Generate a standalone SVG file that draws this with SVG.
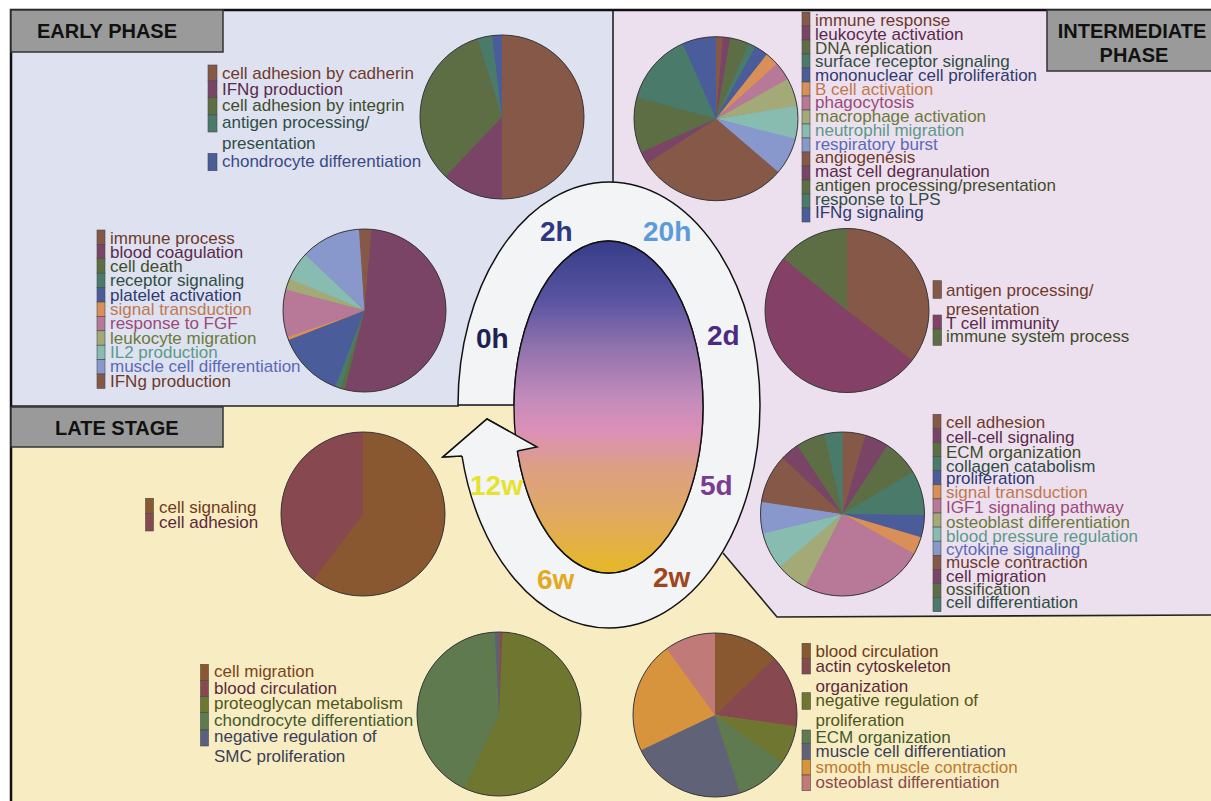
<svg xmlns="http://www.w3.org/2000/svg" width="1211" height="801" viewBox="0 0 1211 801">
<defs>
<style>
.lg{font-family:"Liberation Sans",Arial,Helvetica,sans-serif;font-size:17px}
.hd{font-family:"Liberation Sans",Arial,Helvetica,sans-serif;font-size:20px;font-weight:bold;fill:#111}
.tm{font-family:"Liberation Sans",Arial,Helvetica,sans-serif;font-size:28px;font-weight:bold}
.sw{stroke:#4a4a4a;stroke-width:0.6}
.sl{fill:none}
.ol{fill:none;stroke:#3a3a3a;stroke-width:1}
.hb{fill:#9a9a9a;stroke:#333;stroke-width:1.5}
.bd{fill:none;stroke:#222;stroke-width:1.6}
</style>
<linearGradient id="grad" x1="0" y1="0" x2="0" y2="1">
<stop offset="0" stop-color="#363d88"/>
<stop offset="0.18" stop-color="#5a54a2"/>
<stop offset="0.33" stop-color="#9474ae"/>
<stop offset="0.48" stop-color="#c48cbb"/>
<stop offset="0.57" stop-color="#dc90b8"/>
<stop offset="0.69" stop-color="#dca082"/>
<stop offset="0.81" stop-color="#e0a866"/>
<stop offset="1" stop-color="#e6b826"/>
</linearGradient>
</defs>

<g id="background">
<rect x="0" y="0" width="1211" height="801" fill="#ffffff"/>
<rect x="11" y="10" width="1200" height="791" fill="#f8ecc2"/>
<rect x="11" y="10" width="602" height="396" fill="#dee1f0"/>
<path d="M613,10 H1211 V615 L777,617 L723,553 L613,553 Z" fill="#ede0ee"/>
<path class="bd" d="M613,10 V184"/>
<path class="bd" d="M11,406 H459"/>
<path class="bd" d="M723,553 L777,617 L1211,615"/>
<path d="M11,801 V10 H1211" fill="none" stroke="#111" stroke-width="2.5"/>
</g>

<g id="header-early">
<rect class="hb" x="11" y="10" width="212" height="42"/>
<text class="hd" x="37" y="38">EARLY PHASE</text>
</g>
<g id="header-intermediate">
<rect class="hb" x="1047" y="10" width="170" height="61"/>
<text class="hd" x="1132" y="38" text-anchor="middle">INTERMEDIATE</text>
<text class="hd" x="1134" y="62" text-anchor="middle">PHASE</text>
</g>
<g id="header-late">
<rect class="hb" x="11" y="407" width="212" height="40"/>
<text class="hd" x="55" y="435">LATE STAGE</text>
</g>

<g id="timeline-ring">
<path d="M517.4,451 L537,447 L487,419 L443,457 L462,456 A151,223 0 0 0 609,628 A151,223 0 0 0 760,405 A151,223 0 0 0 609,182 A151,223 0 0 0 458,405 L514,405 A94.5,166 0 0 1 608.5,241 A94.5,166 0 0 1 703,407 A94.5,166 0 0 1 608.5,573 A94.5,166 0 0 1 517.4,451 Z" fill="#f3f4f6" stroke="#111" stroke-width="1.5" stroke-linejoin="miter"/>
<ellipse cx="608.5" cy="407" rx="94.5" ry="166" fill="url(#grad)" stroke="#111" stroke-width="1.4"/>
<polygon points="517.4,451 537,447 487,419 443,457 462,456" fill="#f3f4f6"/>
<polyline points="517.4,451 537,447 487,419 443,457 462,456" fill="none" stroke="#111" stroke-width="1.5"/>
<text class="tm" x="476" y="348" fill="#1d2255">0h</text>
<text class="tm" x="540" y="241" fill="#2c3882">2h</text>
<text class="tm" x="643" y="241" fill="#5b9bd8">20h</text>
<text class="tm" x="707" y="345" fill="#4c2a82">2d</text>
<text class="tm" x="700" y="495" fill="#7a3c92">5d</text>
<text class="tm" x="653" y="587" fill="#a0461c">2w</text>
<text class="tm" x="537" y="589" fill="#e2aa22">6w</text>
<text class="tm" x="470" y="495" fill="#e6e22e">12w</text>
</g>

<g id="pie-early-1">
<circle cx="502" cy="117" r="82" fill="#4a5c9a"/>
<g transform="rotate(-90 502 117)" stroke-width="82">
<circle class="sl" cx="502" cy="117" r="41" pathLength="360" stroke="#855848" stroke-dasharray="180.6 360" stroke-dashoffset="0"/>
<circle class="sl" cx="502" cy="117" r="41" pathLength="360" stroke="#7a4466" stroke-dasharray="44.1 360" stroke-dashoffset="-180"/>
<circle class="sl" cx="502" cy="117" r="41" pathLength="360" stroke="#5e6e44" stroke-dasharray="119.8 360" stroke-dashoffset="-223.5"/>
<circle class="sl" cx="502" cy="117" r="41" pathLength="360" stroke="#4a7a6a" stroke-dasharray="10.9 360" stroke-dashoffset="-342.7"/>
<circle class="sl" cx="502" cy="117" r="41" pathLength="360" stroke="#4a5c9a" stroke-dasharray="7 360" stroke-dashoffset="-353"/>
</g>
<circle class="ol" cx="502" cy="117" r="82"/>
</g>
<g id="legend-early-1" class="lg">
<rect class="sw" x="208" y="65" width="9" height="16" fill="#855848"/>
<rect class="sw" x="208" y="81" width="9" height="16.7" fill="#7a4466"/>
<rect class="sw" x="208" y="97.7" width="9" height="17.3" fill="#5e6e44"/>
<rect class="sw" x="208" y="115" width="9" height="17" fill="#4a7a6a"/>
<rect class="sw" x="208" y="153.3" width="9" height="17.4" fill="#4a5c9a"/>
<text x="222" y="79.3" fill="#6e3a2c">cell adhesion by cadherin</text>
<text x="222" y="95" fill="#5a2a4a">IFNg production</text>
<text x="222" y="111" fill="#3e4e2c">cell adhesion by integrin</text>
<text x="222" y="128.3" fill="#2e4e46">antigen processing/</text>
<text x="222" y="148.7" fill="#2e4e46">presentation</text>
<text x="222" y="166.7" fill="#3a4a86">chondrocyte differentiation</text>
</g>

<g id="pie-early-2">
<circle cx="364.5" cy="310.5" r="81.5" fill="#855848"/>
<g transform="rotate(-90 364.5 310.5)" stroke-width="81.5">
<circle class="sl" cx="364.5" cy="310.5" r="40.75" pathLength="360" stroke="#855848" stroke-dasharray="5.6 360" stroke-dashoffset="0"/>
<circle class="sl" cx="364.5" cy="310.5" r="40.75" pathLength="360" stroke="#7a4466" stroke-dasharray="189.6 360" stroke-dashoffset="-5"/>
<circle class="sl" cx="364.5" cy="310.5" r="40.75" pathLength="360" stroke="#5e6e44" stroke-dasharray="3.6 360" stroke-dashoffset="-194"/>
<circle class="sl" cx="364.5" cy="310.5" r="40.75" pathLength="360" stroke="#4a7a6a" stroke-dasharray="4.6 360" stroke-dashoffset="-197"/>
<circle class="sl" cx="364.5" cy="310.5" r="40.75" pathLength="360" stroke="#4a5c9a" stroke-dasharray="48.3 360" stroke-dashoffset="-201"/>
<circle class="sl" cx="364.5" cy="310.5" r="40.75" pathLength="360" stroke="#d89058" stroke-dasharray="2.9 360" stroke-dashoffset="-248.7"/>
<circle class="sl" cx="364.5" cy="310.5" r="40.75" pathLength="360" stroke="#b87898" stroke-dasharray="34.6 360" stroke-dashoffset="-251"/>
<circle class="sl" cx="364.5" cy="310.5" r="40.75" pathLength="360" stroke="#a3aa78" stroke-dasharray="8.8 360" stroke-dashoffset="-285"/>
<circle class="sl" cx="364.5" cy="310.5" r="40.75" pathLength="360" stroke="#88bcb0" stroke-dasharray="20.6 360" stroke-dashoffset="-293.2"/>
<circle class="sl" cx="364.5" cy="310.5" r="40.75" pathLength="360" stroke="#8898cc" stroke-dasharray="43.4 360" stroke-dashoffset="-313.2"/>
<circle class="sl" cx="364.5" cy="310.5" r="40.75" pathLength="360" stroke="#855848" stroke-dasharray="4 360" stroke-dashoffset="-356"/>
</g>
<circle class="ol" cx="364.5" cy="310.5" r="81.5"/>
</g>
<g id="legend-early-2" class="lg">
<rect class="sw" x="97" y="230" width="8" height="14.4" fill="#855848"/>
<rect class="sw" x="97" y="244.4" width="8" height="14.4" fill="#7a4466"/>
<rect class="sw" x="97" y="258.8" width="8" height="14.4" fill="#5e6e44"/>
<rect class="sw" x="97" y="273.2" width="8" height="14.4" fill="#4a7a6a"/>
<rect class="sw" x="97" y="287.6" width="8" height="14.4" fill="#4a5c9a"/>
<rect class="sw" x="97" y="302" width="8" height="14.4" fill="#d89058"/>
<rect class="sw" x="97" y="316.4" width="8" height="14.4" fill="#b87898"/>
<rect class="sw" x="97" y="330.8" width="8" height="14.4" fill="#a3aa78"/>
<rect class="sw" x="97" y="345.2" width="8" height="14.4" fill="#88bcb0"/>
<rect class="sw" x="97" y="359.6" width="8" height="14.4" fill="#8898cc"/>
<rect class="sw" x="97" y="374" width="8" height="14.4" fill="#855848"/>
<text x="110" y="243.5" fill="#6e3a2c">immune process</text>
<text x="110" y="257.8" fill="#5a2a4a">blood coagulation</text>
<text x="110" y="272.1" fill="#3e4e2c">cell death</text>
<text x="110" y="286.4" fill="#2e4e46">receptor signaling</text>
<text x="110" y="300.7" fill="#2e3a70">platelet activation</text>
<text x="110" y="315" fill="#c07850">signal transduction</text>
<text x="110" y="329.3" fill="#9a4a7a">response to FGF</text>
<text x="110" y="343.6" fill="#6a7a3a">leukocyte migration</text>
<text x="110" y="357.9" fill="#5a9a8a">IL2 production</text>
<text x="110" y="372.2" fill="#5a6ab8">muscle cell differentiation</text>
<text x="110" y="386.5" fill="#6e3a2c">IFNg production</text>
</g>

<g id="pie-intermediate-1">
<circle cx="716" cy="118.7" r="82" fill="#4a5c9a"/>
<g transform="rotate(-90 716 118.7)" stroke-width="82">
<circle class="sl" cx="716" cy="118.7" r="41" pathLength="360" stroke="#855848" stroke-dasharray="5.5 360" stroke-dashoffset="0"/>
<circle class="sl" cx="716" cy="118.7" r="41" pathLength="360" stroke="#7a4466" stroke-dasharray="5.7 360" stroke-dashoffset="-4.9"/>
<circle class="sl" cx="716" cy="118.7" r="41" pathLength="360" stroke="#5e6e44" stroke-dasharray="14.1 360" stroke-dashoffset="-10"/>
<circle class="sl" cx="716" cy="118.7" r="41" pathLength="360" stroke="#4a7a6a" stroke-dasharray="5.8 360" stroke-dashoffset="-23.5"/>
<circle class="sl" cx="716" cy="118.7" r="41" pathLength="360" stroke="#4a5c9a" stroke-dasharray="10.2 360" stroke-dashoffset="-28.7"/>
<circle class="sl" cx="716" cy="118.7" r="41" pathLength="360" stroke="#d89058" stroke-dasharray="10.3 360" stroke-dashoffset="-38.3"/>
<circle class="sl" cx="716" cy="118.7" r="41" pathLength="360" stroke="#b87898" stroke-dasharray="13.6 360" stroke-dashoffset="-48"/>
<circle class="sl" cx="716" cy="118.7" r="41" pathLength="360" stroke="#a3aa78" stroke-dasharray="20.6 360" stroke-dashoffset="-61"/>
<circle class="sl" cx="716" cy="118.7" r="41" pathLength="360" stroke="#88bcb0" stroke-dasharray="23.9 360" stroke-dashoffset="-81"/>
<circle class="sl" cx="716" cy="118.7" r="41" pathLength="360" stroke="#8898cc" stroke-dasharray="26.9 360" stroke-dashoffset="-104.3"/>
<circle class="sl" cx="716" cy="118.7" r="41" pathLength="360" stroke="#855848" stroke-dasharray="107.1 360" stroke-dashoffset="-130.6"/>
<circle class="sl" cx="716" cy="118.7" r="41" pathLength="360" stroke="#7a4466" stroke-dasharray="9.3 360" stroke-dashoffset="-237.1"/>
<circle class="sl" cx="716" cy="118.7" r="41" pathLength="360" stroke="#5e6e44" stroke-dasharray="40.1 360" stroke-dashoffset="-245.8"/>
<circle class="sl" cx="716" cy="118.7" r="41" pathLength="360" stroke="#4a7a6a" stroke-dasharray="51.3 360" stroke-dashoffset="-285.3"/>
<circle class="sl" cx="716" cy="118.7" r="41" pathLength="360" stroke="#4a5c9a" stroke-dasharray="24 360" stroke-dashoffset="-336"/>
</g>
<circle class="ol" cx="716" cy="118.7" r="82"/>
</g>
<g id="legend-intermediate-1" class="lg">
<rect class="sw" x="802" y="12" width="8" height="14" fill="#855848"/>
<rect class="sw" x="802" y="26" width="8" height="14" fill="#7a4466"/>
<rect class="sw" x="802" y="40" width="8" height="14" fill="#5e6e44"/>
<rect class="sw" x="802" y="54" width="8" height="14" fill="#4a7a6a"/>
<rect class="sw" x="802" y="68" width="8" height="14" fill="#4a5c9a"/>
<rect class="sw" x="802" y="82" width="8" height="14" fill="#d89058"/>
<rect class="sw" x="802" y="96" width="8" height="14" fill="#b87898"/>
<rect class="sw" x="802" y="110" width="8" height="14" fill="#a3aa78"/>
<rect class="sw" x="802" y="124" width="8" height="14" fill="#88bcb0"/>
<rect class="sw" x="802" y="138" width="8" height="14" fill="#8898cc"/>
<rect class="sw" x="802" y="152" width="8" height="14" fill="#855848"/>
<rect class="sw" x="802" y="166" width="8" height="14" fill="#7a4466"/>
<rect class="sw" x="802" y="180" width="8" height="14" fill="#5e6e44"/>
<rect class="sw" x="802" y="194" width="8" height="14" fill="#4a7a6a"/>
<rect class="sw" x="802" y="208" width="8" height="14" fill="#4a5c9a"/>
<text x="815" y="26" fill="#6e3a2c">immune response</text>
<text x="815" y="39.7" fill="#5a2a4a">leukocyte activation</text>
<text x="815" y="53.5" fill="#3e4e2c">DNA replication</text>
<text x="815" y="67.2" fill="#2e4e46">surface receptor signaling</text>
<text x="815" y="81" fill="#2e3a70">mononuclear cell proliferation</text>
<text x="815" y="94.7" fill="#c07850">B cell activation</text>
<text x="815" y="108.4" fill="#9a4a7a">phagocytosis</text>
<text x="815" y="122.2" fill="#6a7a3a">macrophage activation</text>
<text x="815" y="135.9" fill="#5a9a8a">neutrophil migration</text>
<text x="815" y="149.7" fill="#5a6ab8">respiratory burst</text>
<text x="815" y="163.4" fill="#6e3a2c">angiogenesis</text>
<text x="815" y="177.1" fill="#5a2a4a">mast cell degranulation</text>
<text x="815" y="190.9" fill="#3e4e2c">antigen processing/presentation</text>
<text x="815" y="204.6" fill="#2e4e46">response to LPS</text>
<text x="815" y="218.4" fill="#2e3a70">IFNg signaling</text>
</g>

<g id="pie-intermediate-2">
<circle cx="847" cy="310.5" r="82" fill="#5e6e44"/>
<g transform="rotate(-90 847 310.5)" stroke-width="82">
<circle class="sl" cx="847" cy="310.5" r="41" pathLength="360" stroke="#855848" stroke-dasharray="127.9 360" stroke-dashoffset="0"/>
<circle class="sl" cx="847" cy="310.5" r="41" pathLength="360" stroke="#844066" stroke-dasharray="182.7 360" stroke-dashoffset="-127.3"/>
<circle class="sl" cx="847" cy="310.5" r="41" pathLength="360" stroke="#5e6e44" stroke-dasharray="50.6 360" stroke-dashoffset="-309.4"/>
</g>
<circle class="ol" cx="847" cy="310.5" r="82"/>
</g>
<g id="legend-intermediate-2" class="lg">
<rect class="sw" x="933" y="280.7" width="8.5" height="17.6" fill="#855848"/>
<rect class="sw" x="933" y="315" width="8.5" height="14" fill="#844066"/>
<rect class="sw" x="933" y="329" width="8.5" height="16.3" fill="#5e6e44"/>
<text x="946" y="296" fill="#6e3a2c">antigen processing/</text>
<text x="946" y="315" fill="#6e3a2c">presentation</text>
<text x="946" y="329.3" fill="#5a2a4a">T cell immunity</text>
<text x="946" y="342.3" fill="#3e4e2c">immune system process</text>
</g>

<g id="pie-intermediate-3">
<circle cx="842.5" cy="514" r="82" fill="#4a7a6a"/>
<g transform="rotate(-90 842.5 514)" stroke-width="82">
<circle class="sl" cx="842.5" cy="514" r="41" pathLength="360" stroke="#855848" stroke-dasharray="16.9 360" stroke-dashoffset="0"/>
<circle class="sl" cx="842.5" cy="514" r="41" pathLength="360" stroke="#7a4466" stroke-dasharray="17.5 360" stroke-dashoffset="-16.3"/>
<circle class="sl" cx="842.5" cy="514" r="41" pathLength="360" stroke="#5e6e44" stroke-dasharray="26.5 360" stroke-dashoffset="-33.2"/>
<circle class="sl" cx="842.5" cy="514" r="41" pathLength="360" stroke="#4a7a6a" stroke-dasharray="32.2 360" stroke-dashoffset="-59.1"/>
<circle class="sl" cx="842.5" cy="514" r="41" pathLength="360" stroke="#4a5c9a" stroke-dasharray="16.4 360" stroke-dashoffset="-90.7"/>
<circle class="sl" cx="842.5" cy="514" r="41" pathLength="360" stroke="#d89058" stroke-dasharray="13.1 360" stroke-dashoffset="-106.5"/>
<circle class="sl" cx="842.5" cy="514" r="41" pathLength="360" stroke="#b87898" stroke-dasharray="88.9 360" stroke-dashoffset="-119"/>
<circle class="sl" cx="842.5" cy="514" r="41" pathLength="360" stroke="#a3aa78" stroke-dasharray="23.3 360" stroke-dashoffset="-207.3"/>
<circle class="sl" cx="842.5" cy="514" r="41" pathLength="360" stroke="#88bcb0" stroke-dasharray="26.6 360" stroke-dashoffset="-230"/>
<circle class="sl" cx="842.5" cy="514" r="41" pathLength="360" stroke="#8898cc" stroke-dasharray="23.1 360" stroke-dashoffset="-256"/>
<circle class="sl" cx="842.5" cy="514" r="41" pathLength="360" stroke="#855848" stroke-dasharray="35.1 360" stroke-dashoffset="-278.5"/>
<circle class="sl" cx="842.5" cy="514" r="41" pathLength="360" stroke="#7a4466" stroke-dasharray="14.2 360" stroke-dashoffset="-313"/>
<circle class="sl" cx="842.5" cy="514" r="41" pathLength="360" stroke="#5e6e44" stroke-dasharray="21 360" stroke-dashoffset="-326.6"/>
<circle class="sl" cx="842.5" cy="514" r="41" pathLength="360" stroke="#4a7a6a" stroke-dasharray="13 360" stroke-dashoffset="-347"/>
</g>
<circle class="ol" cx="842.5" cy="514" r="82"/>
</g>
<g id="legend-intermediate-3" class="lg">
<rect class="sw" x="933" y="414.3" width="8" height="14.1" fill="#855848"/>
<rect class="sw" x="933" y="428.4" width="8" height="14.1" fill="#7a4466"/>
<rect class="sw" x="933" y="442.5" width="8" height="14.1" fill="#5e6e44"/>
<rect class="sw" x="933" y="456.6" width="8" height="14.1" fill="#4a7a6a"/>
<rect class="sw" x="933" y="470.7" width="8" height="14.1" fill="#4a5c9a"/>
<rect class="sw" x="933" y="484.8" width="8" height="14.1" fill="#d89058"/>
<rect class="sw" x="933" y="498.9" width="8" height="14.1" fill="#b87898"/>
<rect class="sw" x="933" y="513" width="8" height="14.1" fill="#a3aa78"/>
<rect class="sw" x="933" y="527.1" width="8" height="14.1" fill="#88bcb0"/>
<rect class="sw" x="933" y="541.2" width="8" height="14.1" fill="#8898cc"/>
<rect class="sw" x="933" y="555.3" width="8" height="14.1" fill="#855848"/>
<rect class="sw" x="933" y="569.4" width="8" height="14.1" fill="#7a4466"/>
<rect class="sw" x="933" y="583.5" width="8" height="14.1" fill="#5e6e44"/>
<rect class="sw" x="933" y="597.6" width="8" height="14.1" fill="#4a7a6a"/>
<text x="946" y="428.3" fill="#6e3a2c">cell adhesion</text>
<text x="946" y="443.3" fill="#5a2a4a">cell-cell signaling</text>
<text x="946" y="458.3" fill="#3e4e2c">ECM organization</text>
<text x="946" y="471.7" fill="#2e4e46">collagen catabolism</text>
<text x="946" y="484" fill="#2e3a70">proliferation</text>
<text x="946" y="498.3" fill="#c07850">signal transduction</text>
<text x="946" y="513.3" fill="#9a4a7a">IGF1 signaling pathway</text>
<text x="946" y="528" fill="#6a7a3a">osteoblast differentiation</text>
<text x="946" y="541.7" fill="#5a9a8a">blood pressure regulation</text>
<text x="946" y="555" fill="#5a6ab8">cytokine signaling</text>
<text x="946" y="568.3" fill="#6e3a2c">muscle contraction</text>
<text x="946" y="581.7" fill="#5a2a4a">cell migration</text>
<text x="946" y="595" fill="#3e4e2c">ossification</text>
<text x="946" y="608.3" fill="#2e4e46">cell differentiation</text>
</g>

<g id="pie-late-1">
<circle cx="363" cy="514" r="82" fill="#884850"/>
<g transform="rotate(-90 363 514)" stroke-width="82">
<circle class="sl" cx="363" cy="514" r="41" pathLength="360" stroke="#8a5830" stroke-dasharray="217.6 360" stroke-dashoffset="0"/>
<circle class="sl" cx="363" cy="514" r="41" pathLength="360" stroke="#884850" stroke-dasharray="143 360" stroke-dashoffset="-217"/>
</g>
<circle class="ol" cx="363" cy="514" r="82"/>
</g>
<g id="legend-late-1" class="lg">
<rect class="sw" x="145.5" y="498.3" width="8" height="15" fill="#8a5830"/>
<rect class="sw" x="145.5" y="513.3" width="8" height="17.7" fill="#884850"/>
<text x="159" y="513" fill="#6e3a1e">cell signaling</text>
<text x="159" y="528.3" fill="#5a2a3a">cell adhesion</text>
</g>

<g id="pie-late-2">
<circle cx="499" cy="714" r="82" fill="#5a6080"/>
<g transform="rotate(-90 499 714)" stroke-width="82">
<circle class="sl" cx="499" cy="714" r="41" pathLength="360" stroke="#8a5830" stroke-dasharray="1.4 360" stroke-dashoffset="0"/>
<circle class="sl" cx="499" cy="714" r="41" pathLength="360" stroke="#884850" stroke-dasharray="2 360" stroke-dashoffset="-1"/>
<circle class="sl" cx="499" cy="714" r="41" pathLength="360" stroke="#6e7630" stroke-dasharray="203.1 360" stroke-dashoffset="-2.5"/>
<circle class="sl" cx="499" cy="714" r="41" pathLength="360" stroke="#5e7a4e" stroke-dasharray="152.6 360" stroke-dashoffset="-205"/>
<circle class="sl" cx="499" cy="714" r="41" pathLength="360" stroke="#5a6080" stroke-dasharray="3 360" stroke-dashoffset="-357"/>
</g>
<circle class="ol" cx="499" cy="714" r="82"/>
</g>
<g id="legend-late-2" class="lg">
<rect class="sw" x="200.5" y="664.3" width="8" height="16.4" fill="#8a5830"/>
<rect class="sw" x="200.5" y="680.7" width="8" height="16" fill="#884850"/>
<rect class="sw" x="200.5" y="696.7" width="8" height="16" fill="#6e7630"/>
<rect class="sw" x="200.5" y="712.7" width="8" height="17.3" fill="#5e7a4e"/>
<rect class="sw" x="200.5" y="730" width="8" height="16" fill="#5a6080"/>
<text x="214" y="677.3" fill="#7a4420">cell migration</text>
<text x="214" y="694" fill="#5a2a3a">blood circulation</text>
<text x="214" y="709.3" fill="#4e5620">proteoglycan metabolism</text>
<text x="214" y="726" fill="#3e5a30">chondrocyte differentiation</text>
<text x="214" y="741.7" fill="#3a3e58">negative regulation of</text>
<text x="214" y="761.7" fill="#3a3e58">SMC proliferation</text>
</g>

<g id="pie-late-3">
<circle cx="715" cy="715" r="82" fill="#c07a78"/>
<g transform="rotate(-90 715 715)" stroke-width="82">
<circle class="sl" cx="715" cy="715" r="41" pathLength="360" stroke="#8a5830" stroke-dasharray="47 360" stroke-dashoffset="0"/>
<circle class="sl" cx="715" cy="715" r="41" pathLength="360" stroke="#884850" stroke-dasharray="52 360" stroke-dashoffset="-46.4"/>
<circle class="sl" cx="715" cy="715" r="41" pathLength="360" stroke="#6e7630" stroke-dasharray="28 360" stroke-dashoffset="-97.8"/>
<circle class="sl" cx="715" cy="715" r="41" pathLength="360" stroke="#5e7a4e" stroke-dasharray="37.6 360" stroke-dashoffset="-125.2"/>
<circle class="sl" cx="715" cy="715" r="41" pathLength="360" stroke="#606278" stroke-dasharray="82.8 360" stroke-dashoffset="-162.2"/>
<circle class="sl" cx="715" cy="715" r="41" pathLength="360" stroke="#d8943c" stroke-dasharray="80 360" stroke-dashoffset="-244.4"/>
<circle class="sl" cx="715" cy="715" r="41" pathLength="360" stroke="#c07a78" stroke-dasharray="36.2 360" stroke-dashoffset="-323.8"/>
</g>
<circle class="ol" cx="715" cy="715" r="82"/>
</g>
<g id="legend-late-3" class="lg">
<rect class="sw" x="802" y="643.3" width="8.5" height="15" fill="#8a5830"/>
<rect class="sw" x="802" y="658.3" width="8.5" height="15.7" fill="#884850"/>
<rect class="sw" x="802" y="692.7" width="8.5" height="16.6" fill="#6e7630"/>
<rect class="sw" x="802" y="730" width="8.5" height="13.3" fill="#5e7a4e"/>
<rect class="sw" x="802" y="743.3" width="8.5" height="16" fill="#606278"/>
<rect class="sw" x="802" y="759.3" width="8.5" height="15.7" fill="#d8943c"/>
<rect class="sw" x="802" y="775" width="8.5" height="15.7" fill="#c07a78"/>
<text x="815.5" y="656.7" fill="#6e3a1e">blood circulation</text>
<text x="815.5" y="671.7" fill="#5a2a3a">actin cytoskeleton</text>
<text x="815.5" y="691.7" fill="#5a2a3a">organization</text>
<text x="815.5" y="706" fill="#4e5620">negative regulation of</text>
<text x="815.5" y="726" fill="#4e5620">proliferation</text>
<text x="815.5" y="743.3" fill="#3e5a30">ECM organization</text>
<text x="815.5" y="757.3" fill="#3a3e58">muscle cell differentiation</text>
<text x="815.5" y="772.7" fill="#c07830">smooth muscle contraction</text>
<text x="815.5" y="787.7" fill="#8a4a4a">osteoblast differentiation</text>
</g>
</svg>
